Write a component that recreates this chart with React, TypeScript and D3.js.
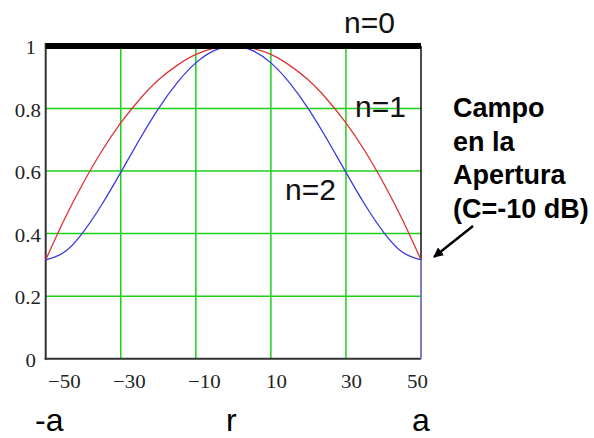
import React from 'react';
import * as d3 from 'd3';

// ---- data ----
const rValues = [-50, -45, -40, -35, -30, -25, -20, -15, -10, -5, 0, 5, 10, 15, 20, 25, 30, 35, 40, 45, 50];
const n1Values = [0.316, 0.446, 0.562, 0.665, 0.754, 0.829, 0.891, 0.938, 0.973, 0.993, 1.0, 0.993, 0.973, 0.938, 0.891, 0.829, 0.754, 0.665, 0.562, 0.446, 0.316];
const n2Values = [0.316, 0.341, 0.405, 0.494, 0.596, 0.701, 0.799, 0.882, 0.946, 0.986, 1.0, 0.986, 0.946, 0.882, 0.799, 0.701, 0.596, 0.494, 0.405, 0.341, 0.316];
const n0R = [-50, 50];
const n0V = [1, 1];
const dropR = [50, 50];
const dropV = [0.316, 0];

const xTicks = [-50, -30, -10, 10, 30, 50];
const xTickLabels = ['\u221250', '\u221230', '\u221210', '10', '30', '50'];
const yTicks = [0, 0.2, 0.4, 0.6, 0.8, 1];
const yTickLabels = ['0', '0.2', '0.4', '0.6', '0.8', '1'];
const gridX = [-30, -10, 10, 30];
const gridY = [0.2, 0.4, 0.6, 0.8];

const seriesLabels = ['n=0', 'n=1', 'n=2'];
const noteLines = ['Campo', 'en la', 'Apertura', '(C=-10 dB)'];
const bottomLabels = ['-a', 'r', 'a'];

const W = 594;
const H = 438;

export default function App() {
  const x = d3.scaleLinear().domain([-50, 50]).range([45.7, 421]);
  const y = d3.scaleLinear().domain([0, 1]).range([358.7, 46]);

  const pts = (rs: number[], vs: number[]) => rs.map((r, i) => [r, vs[i]] as [number, number]);
  const smooth = d3.line<[number, number]>().x(d => x(d[0])).y(d => y(d[1])).curve(d3.curveNatural);
  const straight = d3.line<[number, number]>().x(d => x(d[0])).y(d => y(d[1]));

  const green = '#1ccf1c';
  const axisCol = '#333333';
  const serif = '"Liberation Serif", "Times New Roman", serif';
  const sans = '"Liberation Sans", Arial, sans-serif';

  return (
    <svg width={W} height={H} style={{ position: 'absolute', left: 0, top: 0, background: '#fff' }}>
      <rect x={0} y={0} width={W} height={H} fill="#fff" />
      {/* grid */}
      {gridX.map(g => (
        <line key={'gx' + g} x1={x(g)} x2={x(g)} y1={y(0)} y2={y(1)} stroke={green} strokeWidth={1.5} />
      ))}
      {gridY.map(g => (
        <line key={'gy' + g} x1={x(-50)} x2={x(50)} y1={y(g)} y2={y(g)} stroke={green} strokeWidth={1.5} />
      ))}
      {/* frame */}
      <line x1={x(50)} x2={x(50)} y1={y(1)} y2={y(0)} stroke="#111" strokeWidth={1.5} />
      <line x1={x(-50)} x2={x(-50)} y1={y(1) - 3} y2={y(0) + 1} stroke={axisCol} strokeWidth={2} />
      <line x1={x(-50) - 1} x2={x(50)} y1={y(0)} y2={y(0)} stroke={axisCol} strokeWidth={2} />

      {/* series */}
      <path d={smooth(pts(rValues, n1Values)) || ''} fill="none" stroke="#dd3333" strokeWidth={1.3} />
      <path d={smooth(pts(rValues, n2Values)) || ''} fill="none" stroke="#3b3be0" strokeWidth={1.3} />
      <path d={straight(pts(dropR, dropV)) || ''} fill="none" stroke="#8f8ce0" strokeWidth={1.6} />
      <path d={straight(pts(n0R, n0V)) || ''} fill="none" stroke="#000" strokeWidth={6} />

      {/* y tick labels */}
      {yTicks.map((t, i) => (
        <text
          key={'yt' + t}
          transform={`translate(${yTickLabels[i].includes('.') ? 41 : 36},${y(t) + 8}) scale(1.1,1)`}
          textAnchor="end"
          fontFamily={serif}
          fontSize={19}
          fill="#222"
        >
          {yTickLabels[i]}
        </text>
      ))}
      {/* x tick labels */}
      {xTicks.map((t, i) => {
        const last = i === xTicks.length - 1;
        const first = i === 0;
        const px = first ? x(t) + 2.3 : last ? x(t) + 7 : x(t) + (t < 0 ? 8.5 : 5.5);
        const anchor = first ? 'start' : last ? 'end' : 'middle';
        return (
          <text
            key={'xt' + t}
            transform={`translate(${px},388) scale(1.1,1)`}
            textAnchor={anchor}
            fontFamily={serif}
            fontSize={19}
            fill="#222"
          >
            {xTickLabels[i]}
          </text>
        );
      })}

      {/* series labels */}
      <text x={344} y={33} fontFamily={sans} fontSize={30} fill="#111">{seriesLabels[0]}</text>
      <text x={355} y={117} fontFamily={sans} fontSize={30} fill="#111">{seriesLabels[1]}</text>
      <text x={285} y={200} fontFamily={sans} fontSize={30} fill="#111">{seriesLabels[2]}</text>

      {/* note */}
      {noteLines.map((l, i) => (
        <text key={'n' + i} x={453} y={117 + i * 33.5} fontFamily={sans} fontWeight="bold" fontSize={27} fill="#000">
          {l}
        </text>
      ))}
      <defs>
        <marker id="ah" viewBox="0 0 10 10" refX={9} refY={5} markerWidth={4} markerHeight={4} orient="auto">
          <path d="M0,0 L10,5 L0,10 z" fill="#000" />
        </marker>
      </defs>
      <line x1={473} y1={226} x2={434} y2={257} stroke="#000" strokeWidth={2.5} markerEnd="url(#ah)" />

      {/* bottom labels */}
      <text x={35} y={431} fontFamily={sans} fontSize={32} fill="#000">{bottomLabels[0]}</text>
      <text x={x(0) - 2} y={431} fontFamily={sans} fontSize={32} fill="#000" textAnchor="middle">{bottomLabels[1]}</text>
      <text x={x(50)} y={431} fontFamily={sans} fontSize={32} fill="#000" textAnchor="middle">{bottomLabels[2]}</text>
    </svg>
  );
}
